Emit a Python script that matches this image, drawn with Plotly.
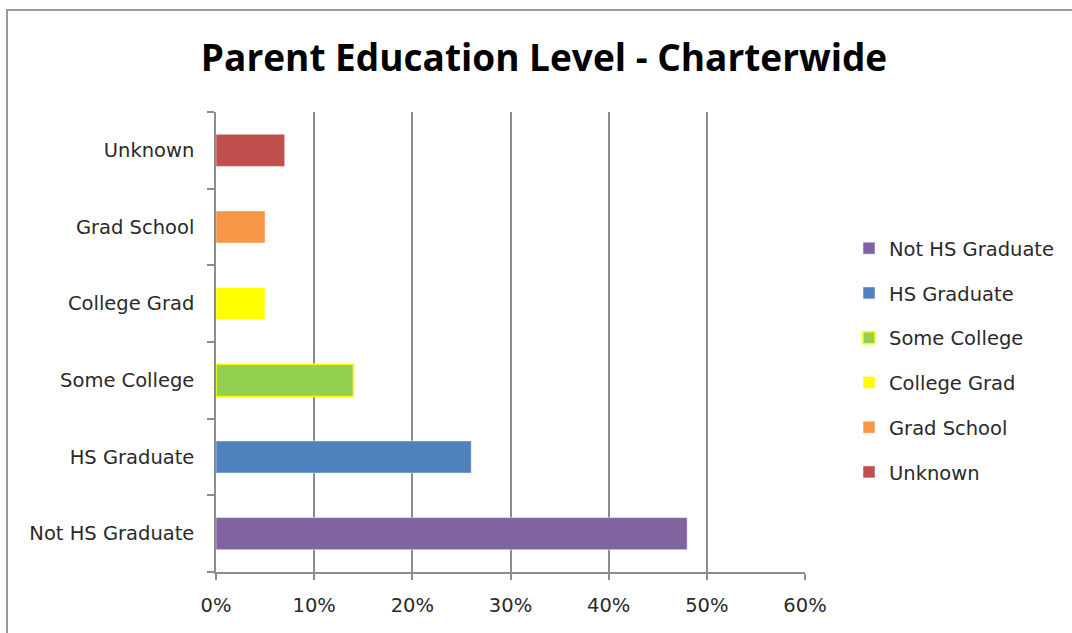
import plotly.graph_objects as go

categories = ["Not HS Graduate", "HS Graduate", "Some College", "College Grad", "Grad School", "Unknown"]
values = [0.48, 0.26, 0.14, 0.05, 0.05, 0.07]
colors = ["#8064A2", "#4F81BD", "#92D050", "#FFFF00", "#F79646", "#C0504D"]
outline_colors = ["rgba(255,255,255,0.5)", "rgba(255,255,255,0.5)", "#FFFF00",
                  "rgba(255,255,255,0.5)", "rgba(255,255,255,0.5)", "rgba(255,255,255,0.5)"]
x_ticks = [0, 0.1, 0.2, 0.3, 0.4, 0.5, 0.6]
x_tick_labels = ["0%", "10%", "20%", "30%", "40%", "50%", "60%"]

TITLE_FONT = "'Open Sans', 'DejaVu Sans', sans-serif"
FONT = "'DejaVu Sans', 'Open Sans', sans-serif"
FS = 19.5
TXT = "#2a2a2a"

fig = go.Figure()
for cat, val, col, oc in zip(categories, values, colors, outline_colors):
    fig.add_trace(go.Bar(
        y=[cat], x=[val], name=cat, orientation="h",
        marker=dict(color=col, line=dict(color=oc, width=1.5 if oc == "#FFFF00" else 1)),
        width=0.42, legendgroup=cat,
    ))

L, R, T, B = 216, 1072 - 805, 112, 633 - 572
W, H = 1072, 633
pw, ph = W - L - R, H - T - B

def px_x(x):
    return (x - L) / pw

def px_y(y):
    return 1 - (y - T) / ph

fig.update_layout(
    width=W, height=H,
    margin=dict(l=L, r=R, t=T, b=B),
    paper_bgcolor="white", plot_bgcolor="white",
    barmode="overlay",
    font=dict(family=FONT, color=TXT, size=FS),
    title=dict(text="<b>Parent Education Level - Charterwide</b>",
               x=0.5075, xanchor="center", y=1 - 58 / H, yanchor="middle",
               font=dict(family=TITLE_FONT, size=37, color="black")),
    xaxis=dict(range=[0, 0.6], tickvals=x_ticks, ticktext=x_tick_labels,
               showgrid=True, gridcolor="#8c8c8c", gridwidth=1.5,
               showline=True, linecolor="#8c8c8c", linewidth=1.5,
               ticks="outside", ticklen=6, tickcolor="#8c8c8c", tickwidth=1.5,
               ticklabelstandoff=9,
               zeroline=False, tickfont=dict(family=FONT, size=FS, color=TXT)),
    yaxis=dict(categoryorder="array", categoryarray=categories,
               showgrid=False, showline=True, linecolor="#8c8c8c", linewidth=1.5,
               ticks="outside", ticklen=7, tickcolor="#8c8c8c", tickwidth=1.5,
               tickson="boundaries", ticklabelstandoff=16,
               tickfont=dict(family=FONT, size=FS, color=TXT)),
    legend=dict(x=px_x(849), xanchor="left", y=px_y(229), yanchor="top",
                traceorder="grouped", tracegroupgap=16.4,
                font=dict(family=FONT, size=FS, color=TXT),
                itemwidth=30, bgcolor="rgba(0,0,0,0)"),
    shapes=[dict(type="rect", xref="paper", yref="paper",
                 x0=px_x(7), x1=px_x(1100), y0=px_y(660), y1=px_y(10),
                 line=dict(color="#999999", width=2), layer="above")],
)

fig.write_html("out.html")
